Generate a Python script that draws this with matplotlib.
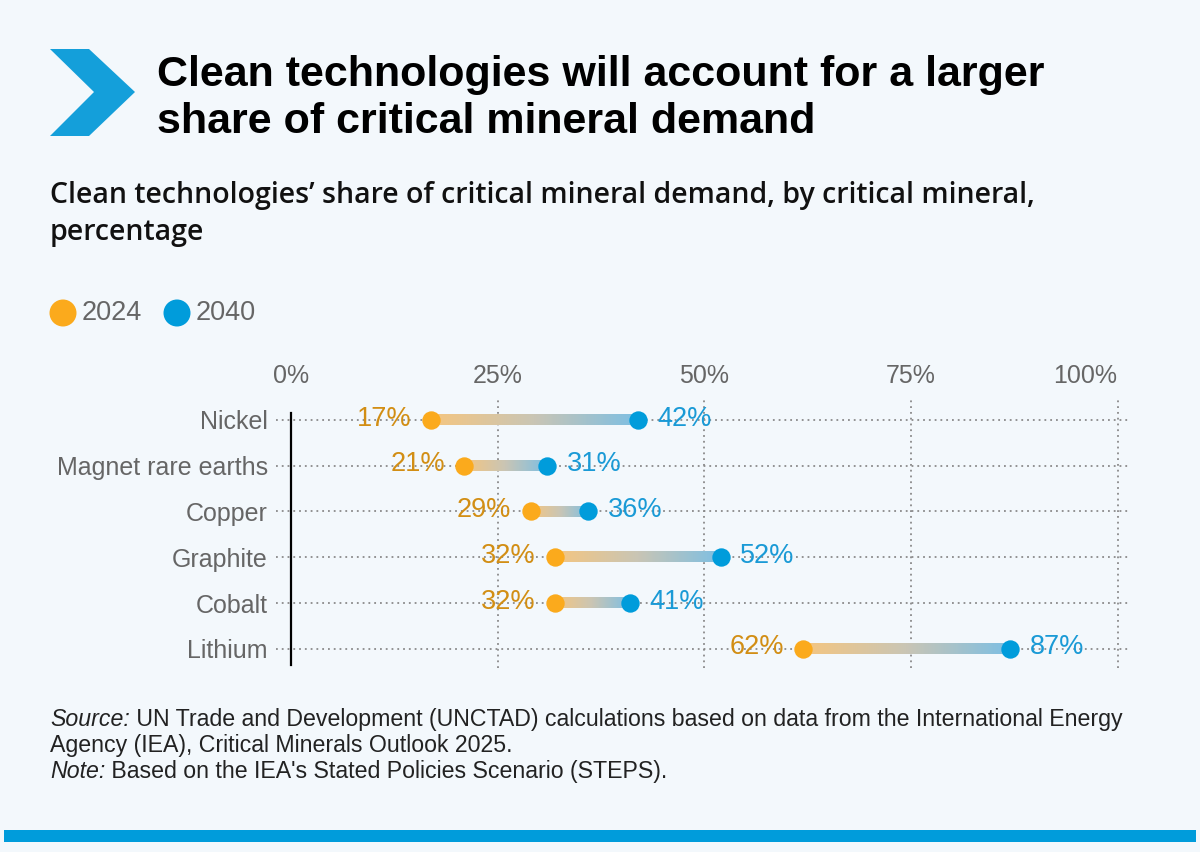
import numpy as np
import matplotlib
matplotlib.use("Agg")
import matplotlib.pyplot as plt
from matplotlib.patches import Polygon, Rectangle, Ellipse
from matplotlib.colors import LinearSegmentedColormap

minerals = ["Nickel", "Magnet rare earths", "Copper", "Graphite", "Cobalt", "Lithium"]
share_2024 = [17, 21, 29, 32, 32, 62]
share_2040 = [42, 31, 36, 52, 41, 87]
x_ticks = [0, 25, 50, 75, 100]
x_tick_labels = ["0%", "25%", "50%", "75%", "100%"]

BG = "#F3F8FC"
ORANGE = "#FBAA1C"
ORANGE_TXT = "#D28E14"
BLUE = "#009CDB"
BLUE_TXT = "#1A9AD6"
GRAY = "#666666"
LABEL_FONT = ["Liberation Sans", "DejaVu Sans"]
SUB_FONT = ["Open Sans", "Liberation Sans"]

plt.rcParams["font.family"] = ["Liberation Sans", "DejaVu Sans"]

fig = plt.figure(figsize=(12, 8.52), dpi=100, facecolor=BG)

# header chevron (pixel coords, y flipped)
chev_px = [(50, 49), (89, 49), (135, 92), (89, 136), (50, 136), (94, 92)]
fig.patches.append(Polygon([(x / 1200, 1 - y / 852) for x, y in chev_px], closed=True,
                           transform=fig.transFigure, facecolor="#149FDA",
                           edgecolor="none"))

fig.text(157 / 1200, 1 - 86 / 852, "Clean technologies will account for a larger",
         fontsize=31, fontweight="bold", color="black", va="baseline")
fig.text(157 / 1200, 1 - 133 / 852, "share of critical mineral demand",
         fontsize=31, fontweight="bold", color="black", va="baseline")

fig.text(50 / 1200, 1 - 203 / 852,
         "Clean technologies\u2019 share of critical mineral demand, by critical mineral,",
         fontsize=20.5, color="#111111", va="baseline", family=SUB_FONT, fontweight=600)
fig.text(50 / 1200, 1 - 240 / 852, "percentage",
         fontsize=20.5, color="#111111", va="baseline", family=SUB_FONT, fontweight=600)

# legend
for cx, col, lab in [(63, ORANGE, "2024"), (177, BLUE, "2040")]:
    fig.patches.append(Ellipse((cx / 1200, 1 - 313 / 852), 27 / 1200, 27 / 852,
                               transform=fig.transFigure, facecolor=col,
                               edgecolor="none"))
    fig.text((cx + 19) / 1200, 1 - 313 / 852, lab, fontsize=19.5, color=GRAY,
             va="center", family=LABEL_FONT)

ax = fig.add_axes([276 / 1200, 1 - 668 / 852, 854 / 1200, 270 / 852])
ax.patch.set_alpha(0)
for s in ax.spines.values():
    s.set_visible(False)

y = np.arange(len(minerals))

cmap = LinearSegmentedColormap.from_list("grad", ["#F5C680", "#C9C5B5", "#7DBFE3"])
grad = np.linspace(0, 1, 256).reshape(1, -1)
for yi, a, b in zip(y, share_2024, share_2040):
    ax.imshow(grad, cmap=cmap, aspect="auto", extent=(a, b, yi + 0.11, yi - 0.11),
              zorder=2, interpolation="bilinear")
ax.set_xlim(-1.8, 101.5)
ax.set_ylim(5.42, -0.48)

ax.scatter(share_2024, y, s=175, color=ORANGE, zorder=3, linewidths=0)
ax.scatter(share_2040, y, s=175, color=BLUE, zorder=3, linewidths=0)

for yi, a, b in zip(y, share_2024, share_2040):
    ax.annotate(f"{a}%", (a, yi), xytext=(-14, 1), textcoords="offset points",
                ha="right", va="center", fontsize=19.5, color=ORANGE_TXT, family=LABEL_FONT)
    ax.annotate(f"{b}%", (b, yi), xytext=(14, 1), textcoords="offset points",
                ha="left", va="center", fontsize=19.5, color=BLUE_TXT, family=LABEL_FONT)

ax.axvline(0, ymin=0.01, ymax=0.945, color="black", lw=1.6, zorder=4)

ax.xaxis.tick_top()
ax.set_xticks(x_ticks)
ax.set_xticklabels(x_tick_labels, family=LABEL_FONT, fontsize=18, color=GRAY)
ax.get_xticklabels()[-1].set_horizontalalignment("right")
ax.set_yticks(y)
ax.set_yticklabels(minerals, family=LABEL_FONT, fontsize=18, color=GRAY)
ax.tick_params(axis="both", length=0)
ax.tick_params(axis="x", pad=7)
ax.tick_params(axis="y", pad=6)
ax.grid(True, linestyle=(0, (1, 2.2)), color="#8A8A8A", lw=1.3)
ax.set_axisbelow(True)
ax.get_xgridlines()[0].set_visible(False)

# footer
FS = 16.7
src = fig.text(50 / 1200, 1 - 726 / 852, "Source:", fontsize=FS, style="italic",
               color="#222222", va="baseline")
ax.annotate(" UN Trade and Development (UNCTAD) calculations based on data from the International Energy",
            xy=(1, 0), xycoords=src, va="bottom", ha="left", fontsize=FS,
            color="#222222", annotation_clip=False)
fig.text(50 / 1200, 1 - 752 / 852, "Agency (IEA), Critical Minerals Outlook 2025.",
         fontsize=FS, color="#222222", va="baseline")
note = fig.text(50 / 1200, 1 - 778 / 852, "Note:", fontsize=FS, style="italic",
                color="#222222", va="baseline")
ax.annotate(" Based on the IEA's Stated Policies Scenario (STEPS).",
            xy=(1, 0), xycoords=note, va="bottom", ha="left", fontsize=FS,
            color="#222222", annotation_clip=False)

fig.patches.append(Rectangle((4 / 1200, 1 - 842 / 852), 1192 / 1200, 12 / 852,
                             transform=fig.transFigure, facecolor=BLUE, edgecolor="none"))

fig.savefig("out.png", dpi=100, facecolor=BG)
